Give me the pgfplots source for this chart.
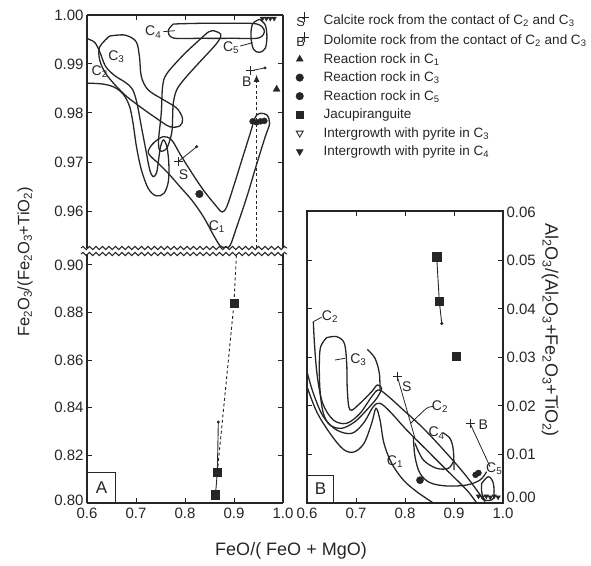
\documentclass[border=0pt]{standalone}
\usepackage{fontspec}
\setmainfont{Liberation Sans}
\usepackage{pgfplots}
\pgfplotsset{compat=1.18}
\usetikzlibrary{decorations.pathmorphing,arrows.meta}
\definecolor{ink}{gray}{0.15}
\pgfplotsset{
  /pgf/number format/assume math mode=true,
  panel/.style={scale only axis, width=196pt, anchor=south west, xmin=0.6, xmax=1.0,
    tick align=inside, major tick length=5pt, scaled ticks=false,
    axis line style={ink, line width=1.3pt}, tick style={ink, line width=1pt},
    tick label style={font=\fontsize{15}{15}\selectfont, text=ink}},
  curve/.style={ink, line width=1.3pt, smooth, tension=0.55, forget plot},
  ytwo/.style={yticklabel style={/pgf/number format/fixed, /pgf/number format/fixed zerofill, /pgf/number format/precision=2}},
  xone/.style={xticklabel style={/pgf/number format/fixed, /pgf/number format/fixed zerofill, /pgf/number format/precision=1, yshift=-1.5pt}},
}
\tikzset{lab/.style={font=\fontsize{14}{14}\selectfont, text=ink, inner sep=1pt}}
\begin{document}
\begin{tikzpicture}
\useasboundingbox (0pt,0pt) rectangle (591pt,565pt);

% ---------------- upper part of panel A ----------------
\begin{axis}[panel, name=up, at={(87pt,317pt)}, height=233pt, ymin=0.95245, ymax=1.0,
  axis x line*=top, axis y line*=box, xtick={0.7,0.8,0.9}, xticklabels={,,},
  ytick={0.96,0.97,0.98,0.99,1.00}, ytwo,
  legend style={at={(axis description cs:1.065,1.015)}, anchor=north west, draw=none, fill=none,
    font=\fontsize{13.5}{15}\selectfont, text=ink, row sep=3.2pt, inner sep=0pt,
    /tikz/every even column/.append style={column sep=4pt},
    /tikz/every odd column/.append style={column sep=12pt}},
  legend cell align=left]
\addlegendimage{legend image code/.code={\draw[ink,line width=0.9pt] (8pt,3pt)--(18pt,3pt) (13pt,-2pt)--(13pt,8pt); \node[ink,inner sep=0pt,font=\fontsize{13}{13}\selectfont] at (5pt,-3pt) {S};}}
\addlegendentry{Calcite rock from the contact of C\textsubscript{2} and C\textsubscript{3}}
\addlegendimage{legend image code/.code={\draw[ink,line width=0.9pt] (8pt,3pt)--(18pt,3pt) (13pt,-2pt)--(13pt,8pt); \node[ink,inner sep=0pt,font=\fontsize{13}{13}\selectfont] at (5pt,-3pt) {B};}}
\addlegendentry{Dolomite rock from the contact of C\textsubscript{2} and C\textsubscript{3}}
\addlegendimage{only marks, mark=triangle*, mark size=4pt, ink}
\addlegendentry{Reaction rock in C\textsubscript{1}}
\addlegendimage{only marks, mark=*, mark size=3.8pt, ink}
\addlegendentry{Reaction rock in C\textsubscript{3}}
\addlegendimage{only marks, mark=*, mark size=3.8pt, ink}
\addlegendentry{Reaction rock in C\textsubscript{5}}
\addlegendimage{only marks, mark=square*, mark size=3.6pt, ink}
\addlegendentry{Jacupiranguite}
\addlegendimage{only marks, mark=triangle, mark size=4pt, mark options={rotate=180, line width=0.9pt}, ink}
\addlegendentry{Intergrowth with pyrite in C\textsubscript{3}}
\addlegendimage{only marks, mark=triangle*, mark size=4pt, mark options={rotate=180}, ink}
\addlegendentry{Intergrowth with pyrite in C\textsubscript{4}}

% C2 band (open at the left edge)
\addplot[curve] coordinates {(0.600,0.9952)(0.6157,0.9944)(0.626,0.9925)(0.638,0.9895)(0.657,0.9876)(0.679,0.9862)(0.693,0.9848)(0.702,0.9820)(0.711,0.9772)(0.720,0.9725)(0.728,0.9684)(0.735,0.9670)(0.742,0.9678)(0.746,0.9704)(0.750,0.9731)(0.756,0.9745)(0.763,0.9731)(0.767,0.9697)(0.766,0.9660)(0.757,0.9636)(0.741,0.9631)(0.725,0.9646)(0.711,0.9684)(0.701,0.9731)(0.694,0.9779)(0.687,0.9813)(0.675,0.9837)(0.657,0.9852)(0.633,0.9859)(0.600,0.9861)};
% C3 loop
\addplot[curve] coordinates {(0.646,0.9957)(0.677,0.9959)(0.700,0.9946)(0.707,0.9915)(0.711,0.9874)(0.725,0.9847)(0.756,0.9827)(0.783,0.9810)(0.795,0.9789)(0.790,0.9774)(0.769,0.9772)(0.742,0.9789)(0.708,0.9813)(0.674,0.9840)(0.640,0.9878)(0.626,0.9908)(0.626,0.9935)(0.646,0.9957)};
% C1 V-shaped band
\addplot[curve] coordinates {(0.7420,0.97007)(0.7659,0.96769)(0.7898,0.96496)(0.8137,0.96224)(0.8375,0.95884)(0.8580,0.95510)(0.8717,0.95290)(0.8819,0.95260)(0.8922,0.95300)(0.9058,0.95680)(0.9263,0.96292)(0.9468,0.96973)(0.9638,0.97517)(0.9727,0.97789)(0.9672,0.97959)(0.9536,0.97993)(0.9433,0.97911)(0.9331,0.97585)(0.9160,0.97041)(0.8990,0.96496)(0.8853,0.96088)(0.8758,0.95979)(0.8648,0.96088)(0.8375,0.96428)(0.8102,0.96837)(0.7898,0.97163)(0.7727,0.97449)(0.7556,0.97517)(0.7352,0.97381)(0.7249,0.97190)(0.7420,0.97007)};
% C4 horizontal oval
\addplot[curve] coordinates {(0.7761,0.99816)(0.8307,0.99830)(0.8990,0.99830)(0.9468,0.99816)(0.9618,0.99680)(0.9502,0.99531)(0.8990,0.99524)(0.8307,0.99524)(0.7761,0.99531)(0.7659,0.99680)(0.7761,0.99816)};
% C4 diagonal band
\addplot[curve] coordinates {(0.8580,0.99680)(0.8730,0.99605)(0.8648,0.99422)(0.8307,0.99048)(0.8000,0.98707)(0.7829,0.98469)(0.7761,0.98197)(0.7748,0.97925)(0.7727,0.97585)(0.7625,0.97279)(0.7488,0.97231)(0.7461,0.97449)(0.7515,0.97993)(0.7543,0.98537)(0.7625,0.98796)(0.7966,0.99184)(0.8307,0.99503)(0.8478,0.99653)(0.8580,0.99680)};
% C5 oval
\addplot[curve] coordinates {(0.9522,0.99912)(0.9638,0.99796)(0.9672,0.99558)(0.9638,0.99320)(0.9522,0.99238)(0.9399,0.99299)(0.9345,0.99558)(0.9379,0.99816)(0.9522,0.99912)};
% label ticks
\addplot[ink, line width=0.8pt, forget plot] coordinates {(0.7557,0.9966)(0.7795,0.9968)};
\addplot[ink, line width=0.8pt, forget plot] coordinates {(0.9127,0.99367)(0.938,0.99435)};
% S and B crosses with tie lines
\addplot[ink, line width=0.8pt, forget plot] coordinates {(0.7863,0.97007)(0.8239,0.97313)};
\addplot[ink, line width=0.8pt, forget plot] coordinates {(0.9333,0.9886)(0.9633,0.9892)};
\addplot[ink, only marks, mark=+, mark size=4.5pt, mark options={line width=0.9pt}, forget plot] coordinates {(0.7863,0.97007)(0.9333,0.9886)};
\addplot[ink, only marks, mark=*, mark size=1.3pt, forget plot] coordinates {(0.8239,0.97313)(0.9633,0.9892)};
% dashed arrow (jacupiranguite trend)
\addplot[ink, line width=0.9pt, dash pattern=on 3pt off 2.5pt, -{Latex[length=7pt,width=6pt]}, forget plot] coordinates {(0.946,0.95245)(0.946,0.9878)};
% reaction rocks
\addplot[ink, only marks, mark=triangle*, mark size=4pt, forget plot] coordinates {(0.987,0.98484)};
\addplot[ink, only marks, mark=*, mark size=3.8pt, forget plot] coordinates {(0.8294,0.96347)};
\addplot[ink, only marks, mark=*, mark size=3pt, forget plot] coordinates {(0.938,0.9783)(0.946,0.9781)(0.954,0.9783)(0.962,0.9784)};
\addplot[ink, only marks, mark=triangle*, mark size=2.6pt, mark options={rotate=180}, forget plot] coordinates {(0.958,0.9993)(0.966,0.9993)(0.974,0.9993)(0.982,0.9993)};
% labels
\node[lab, anchor=east] at (axis cs:0.754,0.9965) {C\textsubscript{4}};
\node[lab, anchor=east] at (axis cs:0.913,0.9934) {C\textsubscript{5}};
\node[lab] at (axis cs:0.660,0.9915) {C\textsubscript{3}};
\node[lab] at (axis cs:0.626,0.9884) {C\textsubscript{2}};
\node[lab] at (axis cs:0.865,0.9568) {C\textsubscript{1}};
\node[lab] at (axis cs:0.797,0.9674) {S};
\node[lab] at (axis cs:0.926,0.9864) {B};
\end{axis}

% ---------------- lower part of panel A ----------------
\begin{axis}[panel, name=low, at={(87pt,62pt)}, height=249pt, ymin=0.80, ymax=0.9046,
  axis x line*=bottom, axis y line*=box, xtick={0.6,0.7,0.8,0.9,1.0}, xone,
  ytick={0.82,0.84,0.86,0.88,0.90}, ytwo,
  extra y ticks={0.80}, extra y tick style={ytwo, yticklabel style={yshift=3pt}}]
\addplot[ink, line width=0.9pt, forget plot] coordinates {(0.862,0.803)(0.866,0.813)(0.868,0.834)};
\addplot[ink, only marks, mark=*, mark size=1.3pt, forget plot] coordinates {(0.868,0.834)};
\addplot[ink, line width=0.9pt, dash pattern=on 3pt off 2.5pt, forget plot] coordinates {(0.866,0.813)(0.900,0.884)(0.905,0.9046)};
\addplot[ink, only marks, mark=square*, mark size=4.2pt, forget plot] coordinates {(0.862,0.8035)(0.866,0.813)(0.900,0.884)};
\node[draw=ink, line width=1pt, anchor=south west, minimum width=28pt, minimum height=30pt, inner sep=0pt, font=\fontsize{17}{17}\selectfont, text=ink] at (rel axis cs:0,0) {A};
\end{axis}

% ---------------- panel B ----------------
\begin{axis}[panel, name=bp, at={(307pt,62pt)}, height=292pt, ymin=0, ymax=0.0602,
  xtick={0.6,0.7,0.8,0.9,1.0}, xone,
  ytick={0.01,0.02,0.03,0.04,0.05,0.06}, ytwo, yticklabel pos=right,
  extra y ticks={0}, extra y tick style={ytwo, yticklabel style={yshift=6pt}}]
% C2 outer
\addplot[curve] coordinates {(0.6129,0.03739)(0.6156,0.03223)(0.6211,0.02605)(0.6320,0.02055)(0.6537,0.01711)(0.6810,0.01643)(0.7082,0.01849)(0.7320,0.02192)(0.7456,0.02330)(0.7626,0.02227)(0.7966,0.01918)(0.8374,0.01540)(0.8850,0.01024)(0.9259,0.00543)(0.9633,0.00027)};
% C3 loop
\addplot[curve] coordinates {(0.6401,0.03409)(0.6605,0.03430)(0.6762,0.03292)(0.6810,0.02880)(0.6823,0.02330)(0.6878,0.01918)(0.7082,0.02055)(0.7320,0.02296)(0.7435,0.02433)(0.7524,0.02364)(0.7422,0.02158)(0.7218,0.01918)(0.6980,0.01677)(0.6707,0.01540)(0.6469,0.01608)(0.6333,0.01849)(0.6265,0.02330)(0.6252,0.02880)(0.6279,0.03223)(0.6401,0.03409)};
% left-edge curve
\addplot[curve] coordinates {(0.6000,0.02708)(0.6129,0.02261)(0.6333,0.01780)(0.6605,0.01505)(0.6912,0.01436)(0.7150,0.01643)(0.7354,0.01986)(0.7490,0.02055)(0.7694,0.01883)(0.8034,0.01505)(0.8442,0.01093)(0.8850,0.00680)(0.9259,0.00268)(0.9463,0.0)};
% lowest curve and C1
\addplot[curve] coordinates {(0.6000,0.02399)(0.6197,0.01883)(0.6469,0.01436)(0.6741,0.01107)(0.6959,0.01052)(0.7163,0.01230)(0.7320,0.01643)(0.7408,0.01952)(0.7490,0.01711)(0.7571,0.01230)(0.7728,0.00818)(0.7966,0.00474)(0.8238,0.00234)(0.8578,0.0)};
% C3 tail
\addplot[curve] coordinates {(0.7231,0.03168)(0.7388,0.02983)(0.7476,0.02674)(0.7490,0.02330)};
% C4 envelopes
\addplot[curve] coordinates {(0.8170,0.01368)(0.8204,0.00955)(0.8306,0.00612)(0.8510,0.00419)(0.8850,0.00351)(0.9259,0.00371)(0.9531,0.00474)(0.9667,0.00646)};
\addplot[curve] coordinates {(0.8204,0.01230)(0.8374,0.00887)(0.8646,0.00715)(0.8884,0.00715)(0.8986,0.00852)};
\addplot[curve] coordinates {(0.8769,0.01450)(0.8918,0.01333)(0.8986,0.01093)(0.9000,0.00680)};
% C5 small loop
\addplot[curve] coordinates {(0.9565,0.00405)(0.9701,0.00543)(0.9803,0.00405)(0.9803,0.00096)(0.9633,0.00062)(0.9565,0.00234)(0.9565,0.00405)};
% label ticks
\addplot[ink, line width=0.8pt, smooth, forget plot] coordinates {(0.8116,0.01643)(0.8442,0.01952)(0.8592,0.01986)};
\addplot[ink, line width=0.8pt, forget plot] coordinates {(0.6571,0.02948)(0.6776,0.02983)};
\addplot[ink, line width=0.8pt, forget plot] coordinates {(0.6129,0.03739)(0.6300,0.03830)};
% S and B
\addplot[ink, line width=0.8pt, forget plot] coordinates {(0.7844,0.02605)(0.8204,0.01333)};
\addplot[ink, line width=0.8pt, forget plot] coordinates {(0.9327,0.01643)(0.9735,0.00749)};
\addplot[ink, only marks, mark=+, mark size=4.5pt, mark options={line width=0.9pt}, forget plot] coordinates {(0.7844,0.02605)(0.9327,0.01643)};
% jacupiranguite
\addplot[ink, line width=0.9pt, forget plot] coordinates {(0.8647,0.0508)(0.870,0.0416)(0.875,0.0370)};
\addplot[ink, only marks, mark=*, mark size=1.3pt, forget plot] coordinates {(0.875,0.0370)};
\addplot[ink, only marks, mark=square*, mark size=4.2pt, forget plot] coordinates {(0.8647,0.0508)(0.870,0.0416)(0.904,0.0303)};
% reaction rocks and intergrowths
\addplot[ink, only marks, mark=*, mark size=3.6pt, forget plot] coordinates {(0.8306,0.0047)};
\addplot[ink, only marks, mark=*, mark size=3pt, forget plot] coordinates {(0.944,0.0058)(0.950,0.0062)};
\addplot[ink, only marks, mark=triangle*, mark size=2.6pt, mark options={rotate=180}, forget plot] coordinates {(0.950,0.0014)(0.958,0.0012)(0.966,0.0014)(0.974,0.0012)(0.982,0.0014)(0.990,0.0012)};
% labels
\node[lab] at (axis cs:0.6469,0.0384) {C\textsubscript{2}};
\node[lab] at (axis cs:0.7048,0.0295) {C\textsubscript{3}};
\node[lab] at (axis cs:0.8034,0.0240) {S};
\node[lab] at (axis cs:0.8714,0.0199) {C\textsubscript{2}};
\node[lab] at (axis cs:0.8646,0.0144) {C\textsubscript{4}};
\node[lab] at (axis cs:0.7796,0.0085) {C\textsubscript{1}};
\node[lab] at (axis cs:0.960,0.0161) {B};
\node[lab] at (axis cs:0.982,0.0071) {C\textsubscript{5}};
\node[draw=ink, line width=1pt, anchor=south west, minimum width=26pt, minimum height=27pt, inner sep=0pt, font=\fontsize{17}{17}\selectfont, text=ink] at (rel axis cs:0,0) {B};
\end{axis}

% axis breaks
\draw[ink, line width=1pt, decorate, decoration={snake, amplitude=1.6pt, segment length=6.5pt}] ([xshift=-6pt]up.south west) -- ([xshift=4pt]up.south east);
\draw[ink, line width=1pt, decorate, decoration={snake, amplitude=1.6pt, segment length=6.5pt}] ([xshift=-6pt]low.north west) -- ([xshift=4pt]low.north east);

% axis titles
\node[rotate=90, font=\fontsize{16.5}{16.5}\selectfont, text=ink] at (25pt,303pt) {Fe\textsubscript{2}O\textsubscript{3}/(Fe\textsubscript{2}O\textsubscript{3}+TiO\textsubscript{2})};
\node[font=\fontsize{18}{18}\selectfont, text=ink] at (291pt,14pt) {FeO/( FeO + MgO)};
\node[rotate=-90, font=\fontsize{18}{18}\selectfont, text=ink] at (550pt,235pt) {Al\textsubscript{2}O\textsubscript{3}/(Al\textsubscript{2}O\textsubscript{3}+Fe\textsubscript{2}O\textsubscript{3}+TiO\textsubscript{2})};
\end{tikzpicture}
\end{document}
